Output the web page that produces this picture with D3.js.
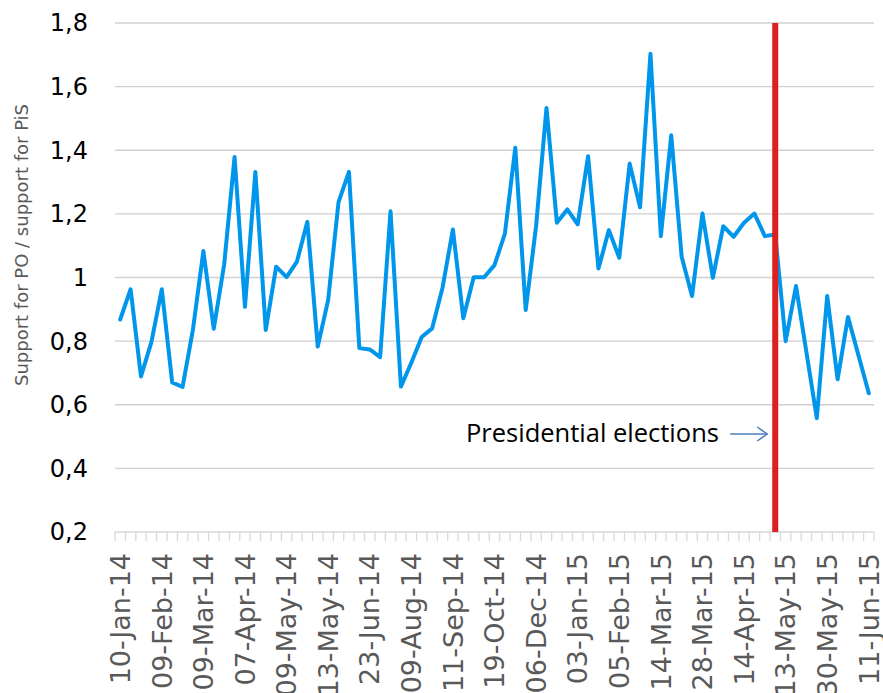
<!DOCTYPE html>
<html>
<head>
<meta charset="utf-8">
<script src="https://cdn.jsdelivr.net/npm/d3@7"></script>
<style>
  body { margin: 0; background: #fff; }
  svg { display: block; }
</style>
</head>
<body>
<svg width="883" height="693"></svg>
<script>
// weekly ratio PO / PiS, one value per poll
const values = [
  0.868, 0.963, 0.689, 0.797, 0.963, 0.670, 0.656, 0.837, 1.083, 0.839,
  1.041, 1.379, 0.908, 1.332, 0.835, 1.034, 1.001, 1.050, 1.175, 0.783,
  0.929, 1.237, 1.332, 0.778, 0.774, 0.750, 1.208, 0.657, 0.732, 0.813,
  0.840, 0.968, 1.151, 0.872, 1.001, 1.001, 1.039, 1.138, 1.408, 0.898,
  1.161, 1.533, 1.172, 1.214, 1.167, 1.381, 1.028, 1.149, 1.062, 1.358,
  1.221, 1.703, 1.130, 1.447, 1.065, 0.942, 1.201, 0.999, 1.161, 1.128,
  1.172, 1.201, 1.130, 1.135, 0.800, 0.973, 0.765, 0.558, 0.942, 0.680,
  0.876, 0.756, 0.636
];

// a label is shown on every 4th poll
const tickLabels = [
  "10-Jan-14", "09-Feb-14", "09-Mar-14", "07-Apr-14", "09-May-14",
  "13-May-14", "23-Jun-14", "09-Aug-14", "11-Sep-14", "19-Oct-14",
  "06-Dec-14", "03-Jan-15", "05-Feb-15", "14-Mar-15", "28-Mar-15",
  "14-Apr-15", "13-May-15", "30-May-15", "11-Jun-15"
];
const labelEvery = 4;

const yTicks = [0.2, 0.4, 0.6, 0.8, 1, 1.2, 1.4, 1.6, 1.8];

const electionIndex = 63;
const electionText = "Presidential elections";

const svg = d3.select("svg");

let x = d3.scaleBand()
    .domain(d3.range(values.length))
    .range([115, 874]);

let y = d3.scaleLinear()
    .domain([0.2, 1.8])
    .range([532, 23]);

let cx = i => x(i) + x.bandwidth() / 2;

let fmt = v => String(v).replace(".", ",");

// gridlines
svg.append("g")
    .selectAll("line")
    .data(yTicks.slice(1))
    .enter()
    .append("line")
    .attr("x1", 115)
    .attr("x2", 874)
    .attr("y1", d => y(d))
    .attr("y2", d => y(d))
    .attr("stroke", "#d0d0d0")
    .attr("stroke-width", 1.3);

// y labels
svg.append("g")
    .selectAll("text")
    .data(yTicks)
    .enter()
    .append("text")
    .attr("x", 88)
    .attr("y", d => y(d))
    .attr("dy", "0.35em")
    .attr("text-anchor", "end")
    .attr("font-family", "DejaVu Sans")
    .attr("font-size", 24)
    .attr("fill", "#000")
    .text(fmt);

svg.append("text")
    .attr("transform", "translate(28,245) rotate(-90)")
    .attr("text-anchor", "middle")
    .attr("font-family", "DejaVu Sans")
    .attr("font-size", 18)
    .attr("fill", "#595959")
    .text("Support for PO / support for PiS");

// x axis: ticks between categories
let xAxis = svg.append("g");

xAxis.append("line")
    .attr("x1", 115)
    .attr("x2", 874)
    .attr("y1", 532)
    .attr("y2", 532)
    .attr("stroke", "#d9d9d9")
    .attr("stroke-width", 1.3);

xAxis.selectAll(".tk")
    .data(d3.range(values.length + 1))
    .enter()
    .append("line")
    .attr("class", "tk")
    .attr("x1", i => i < values.length ? x(i) : x.range()[1])
    .attr("x2", i => i < values.length ? x(i) : x.range()[1])
    .attr("y1", 532)
    .attr("y2", 541)
    .attr("stroke", "#d9d9d9")
    .attr("stroke-width", 1.3);

xAxis.selectAll(".lbl")
    .data(tickLabels)
    .enter()
    .append("text")
    .attr("class", "lbl")
    .attr("transform", (d, k) => "translate(" + cx(k * labelEvery) + ",553) rotate(-90)")
    .attr("dy", "0.36em")
    .attr("text-anchor", "end")
    .attr("font-family", "DejaVu Sans")
    .attr("font-size", 27)
    .attr("fill", "#595959")
    .text(d => d);

// the series
let line = d3.line()
    .x((d, i) => cx(i))
    .y(d => y(d));

svg.append("path")
    .datum(values)
    .attr("d", line)
    .attr("fill", "none")
    .attr("stroke", "#0096eb")
    .attr("stroke-width", 4)
    .attr("stroke-linejoin", "round")
    .attr("stroke-linecap", "round");

// election marker
svg.append("line")
    .attr("x1", cx(electionIndex))
    .attr("x2", cx(electionIndex))
    .attr("y1", y(1.8))
    .attr("y2", y(0.2))
    .attr("stroke", "#dc1f1f")
    .attr("stroke-width", 6);

svg.append("text")
    .attr("x", 466)
    .attr("y", 442)
    .attr("font-family", "Open Sans")
    .attr("font-size", 25.5)
    .attr("fill", "#000")
    .text(electionText);

let ax = cx(electionIndex) - 8;
let ay = 434;
let arrow = svg.append("g")
    .attr("stroke", "#4a7ebb")
    .attr("stroke-width", 1.5)
    .attr("fill", "none");

arrow.append("line")
    .attr("x1", ax - 37)
    .attr("x2", ax)
    .attr("y1", ay)
    .attr("y2", ay);

arrow.append("path")
    .attr("d", "M" + (ax - 10) + "," + (ay - 7) + "L" + ax + "," + ay + "L" + (ax - 10) + "," + (ay + 7));
</script>
</body>
</html>
